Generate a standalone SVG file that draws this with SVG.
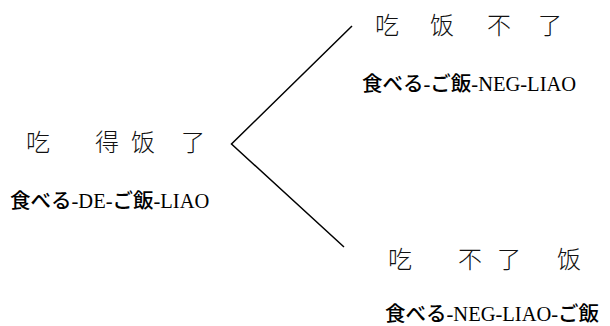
<svg xmlns="http://www.w3.org/2000/svg" width="610" height="326" viewBox="0 0 610 326">
<style>
.zh{font-family:"Noto Sans CJK SC",sans-serif;font-weight:300;font-size:24px;fill:#111}
.gl{font-family:"Liberation Serif","Noto Sans CJK JP",serif;font-size:20.5px;fill:#000}
.ja{font-family:"Noto Sans CJK JP",sans-serif;font-weight:500}
.ln{stroke:#000;stroke-width:1.5;fill:none}
</style>
<rect width="610" height="326" fill="#fff"/>
<g id="connectors">
<polyline class="ln" points="352,26 231.5,144 344,247"/>
</g>
<g id="root">
<text class="zh" y="151"><tspan x="26">吃</tspan><tspan x="95">得</tspan><tspan x="131">饭</tspan><tspan x="181">了</tspan></text>
<text class="gl" x="10" y="208"><tspan class="ja">食べる</tspan>-DE-<tspan class="ja">ご飯</tspan>-LIAO</text>
</g>
<g id="top">
<text class="zh" y="34"><tspan x="375">吃</tspan><tspan x="430">饭</tspan><tspan x="487">不</tspan><tspan x="538">了</tspan></text>
<text class="gl" x="362" y="91"><tspan class="ja">食べる</tspan>-<tspan class="ja">ご飯</tspan>-NEG-LIAO</text>
</g>
<g id="bottom">
<text class="zh" y="268"><tspan x="388">吃</tspan><tspan x="458">不</tspan><tspan x="497">了</tspan><tspan x="557">饭</tspan></text>
<text class="gl" x="385" y="321"><tspan class="ja">食べる</tspan>-NEG-LIAO-<tspan class="ja">ご飯</tspan></text>
</g>
</svg>
